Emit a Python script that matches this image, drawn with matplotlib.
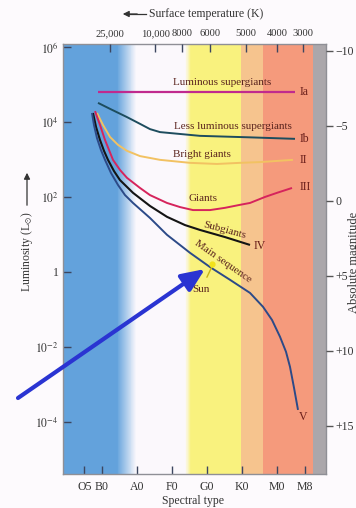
import numpy as np
import matplotlib.pyplot as plt
from matplotlib.colors import to_rgb

plt.rcParams['font.family'] = ['Liberation Serif', 'DejaVu Serif', 'DejaVu Sans']
plt.rcParams['mathtext.fontset'] = 'stix'

# ---------------- data ----------------
spectral_labels = ['O5', 'B0', 'A0', 'F0', 'G0', 'K0', 'M0', 'M8']
spectral_pos = [5, 10, 20, 30, 40, 50, 60, 68]          # subtype index (O0=0, B0=10, ...)
temp_labels = ['25,000', '10,000', '8000', '6000', '5000', '4000', '3000']
temp_pos = [12.3, 25.2, 32.9, 40.9, 51.2, 60.0, 67.4]
lum_ticks = [1e6, 1e4, 1e2, 1, 1e-2, 1e-4]
lum_tick_labels = ['$10^{6}$', '$10^{4}$', '$10^{2}$', '1', '$10^{-2}$', '$10^{-4}$']
mag_ticks = [-10, -5, 0, 5, 10, 15]
mag_tick_labels = ['\u221210', '\u22125', '0', '+5', '+10', '+15']

# luminosity classes: spectral index and log10(L/Lsun)
ia_x = [8.9, 65.1]
ia_logL = [4.8, 4.8]
ib_x = [8.86, 12.29, 17.14, 20.86, 23.71, 26.57, 32.29, 38.0, 52.29, 65.14]
ib_logL = [4.51, 4.35, 4.13, 3.95, 3.81, 3.73, 3.68, 3.63, 3.59, 3.55]
ii_x = [8.57, 10.29, 12.29, 14.57, 17.14, 20.86, 26.57, 35.14, 42.86, 49.43, 55.14, 64.57]
ii_logL = [4.24, 3.92, 3.6, 3.39, 3.23, 3.09, 2.99, 2.91, 2.88, 2.91, 2.93, 2.99]
iii_x = [8.0, 9.43, 10.86, 13.14, 15.14, 17.14, 20.86, 23.71, 28.57, 32.29, 36.0, 40.86,
         45.14, 49.43, 52.29, 56.57, 60.0, 64.29]
iii_logL = [4.29, 3.92, 3.52, 2.99, 2.72, 2.51, 2.24, 2.05, 1.84, 1.73, 1.65, 1.65,
            1.71, 1.79, 1.84, 2.0, 2.11, 2.24]
iv_x = [7.43, 8.29, 9.43, 10.57, 11.71, 13.43, 15.14, 18.86, 23.71, 28.57, 33.71, 38.0, 45.14, 52.29]
iv_logL = [4.24, 3.87, 3.52, 3.23, 2.99, 2.69, 2.45, 2.11, 1.76, 1.47, 1.25, 1.12, 0.93, 0.72]
v_x = [7.14, 7.71, 8.57, 9.71, 10.86, 12.57, 14.57, 16.57, 18.86, 23.71, 28.57, 35.14, 40.86,
       46.57, 52.29, 56.0, 58.57, 60.86, 62.57, 63.71, 64.86, 66.0]
v_logL = [4.24, 3.92, 3.57, 3.25, 2.99, 2.64, 2.32, 2.05, 1.84, 1.44, 0.99, 0.51, 0.13,
          -0.21, -0.56, -0.93, -1.28, -1.73, -2.13, -2.53, -3.09, -3.68]
sun_x = 41.4
sun_logL = 0.2

# ---------------- figure ----------------
W, H = 356, 508
fig = plt.figure(figsize=(W / 100, H / 100), dpi=100)
fig.patch.set_facecolor('#fdfafd')

def fx(px):
    return px / W

def fy(py):
    return 1 - py / H

ax = fig.add_axes([fx(63), fy(474), fx(326) - fx(63), fy(44) - fy(474)])
xmin, xmax = -1.14, 74.0
ax.set_xlim(xmin, xmax)
ax.set_yscale('log')
ax.set_ylim(10 ** -5.39, 10 ** 6.08)

# background bands
blue = to_rgb('#63a2dc')
white = to_rgb('#fbf8fc')
yellow = to_rgb('#f9f27e')
lorange = to_rgb('#f6c48e')
salmon = to_rgb('#f59a7c')
gray = to_rgb('#aba7ab')
ax.axvspan(xmin, 14.3, color=blue, lw=0)
n = 40
edges = np.linspace(14.3, 19.8, n + 1)
for i in range(n):
    t = (i + 0.5) / n
    c = tuple(b * (1 - t) + w * t for b, w in zip(blue, white))
    ax.axvspan(edges[i], edges[i + 1] + 0.01, color=c, lw=0)
ax.axvspan(19.8, 33.8, color=white, lw=0)
edges = np.linspace(33.8, 35.4, 11)
for i in range(10):
    t = (i + 0.5) / 10
    c = tuple(w * (1 - t) + y * t for w, y in zip(white, yellow))
    ax.axvspan(edges[i], edges[i + 1] + 0.01, color=c, lw=0)
ax.axvspan(35.4, 49.7, color=yellow, lw=0)
ax.axvspan(49.7, 56.0, color=lorange, lw=0)
ax.axvspan(56.0, 70.3, color=salmon, lw=0)
ax.axvspan(70.3, xmax, color=gray, lw=0)

def L(a):
    return 10 ** np.asarray(a)

kw = dict(solid_joinstyle='round', solid_capstyle='butt')
ax.plot(ia_x, L(ia_logL), color='#c02a8e', lw=1.6, **kw)
ax.plot(ib_x, L(ib_logL), color='#1d4d5e', lw=1.4, **kw)
ax.plot(ii_x, L(ii_logL), color='#f2c262', lw=1.4, **kw)
ax.plot(iii_x, L(iii_logL), color='#d6245c', lw=1.4, **kw)
ax.plot(iv_x, L(iv_logL), color='#141414', lw=1.5, **kw)
ax.plot(v_x, L(v_logL), color='#2c4a88', lw=1.4, **kw)

# sun
ax.plot([sun_x], [10 ** sun_logL], 'o', color='#f2e21a', ms=3.5, zorder=5)
ax.annotate('Sun', xy=(sun_x - 0.1, 10 ** (sun_logL - 0.08)), xytext=(38.3, 10 ** -0.47),
            ha='center', va='center', fontsize=8, color='#5a241e',
            arrowprops=dict(arrowstyle='-', color='#c9b416', lw=1.0, shrinkA=4, shrinkB=0))

tc = '#5a241e'
fs = 8
ax.text(44.3, 10 ** 5.04, 'Luminous supergiants', ha='center', va='center', fontsize=fs, color=tc)
ax.text(47.4, 10 ** 3.87, 'Less luminous supergiants', ha='center', va='center', fontsize=fs, color=tc)
ax.text(38.6, 10 ** 3.12, 'Bright giants', ha='center', va='center', fontsize=fs, color=tc)
ax.text(38.9, 10 ** 1.95, 'Giants', ha='center', va='center', fontsize=fs, color=tc)
ax.text(45.1, 10 ** 1.12, 'Subgiants', ha='center', va='center', fontsize=fs, color=tc, rotation=-15)
ax.text(44.6, 10 ** 0.27, 'Main sequence', ha='center', va='center', fontsize=fs, color=tc, rotation=-35)
rc = '#6a1e1a'
ax.text(55.1, 10 ** 0.69, 'IV', ha='center', va='center', fontsize=8.5, color=rc)
ax.text(66.6, 10 ** 4.8, 'Ia', ha='left', va='center', fontsize=8.5, color=rc)
ax.text(66.6, 10 ** 3.55, 'Ib', ha='left', va='center', fontsize=8.5, color=rc)
ax.text(66.6, 10 ** 2.99, 'II', ha='left', va='center', fontsize=8.5, color=rc)
ax.text(66.6, 10 ** 2.27, 'III', ha='left', va='center', fontsize=8.5, color=rc)
ax.text(67.5, 10 ** -3.87, 'V', ha='center', va='center', fontsize=8.5, color=rc)

# axes styling
spine_c = '#8f8f96'
tick_c = '#3c4660'
for s in ax.spines.values():
    s.set_color(spine_c)
    s.set_linewidth(1.0)
ax.set_xticks(spectral_pos)
ax.set_xticklabels(spectral_labels)
ax.set_yticks(lum_ticks)
ax.set_yticklabels(lum_tick_labels)
ax.yaxis.set_minor_locator(plt.NullLocator())
ax.tick_params(axis='both', direction='in', length=6, width=1.0, color=tick_c,
               labelsize=8.5, labelcolor='#333333', pad=3)
ax.tick_params(axis='x', pad=5)

ax2 = ax.twinx()
ax2.set_ylim(4.74 - 2.5 * (-5.39), 4.74 - 2.5 * 6.08)
ax2.set_yticks(mag_ticks)
ax2.set_yticklabels(mag_tick_labels)
ax2.tick_params(axis='y', direction='out', length=5, width=1.0, color='#555555',
                labelsize=8.5, labelcolor='#333333', pad=2)
for s in ax2.spines.values():
    s.set_visible(False)

ax3 = ax.twiny()
ax3.set_xlim(xmin, xmax)
ax3.set_xticks(temp_pos)
ax3.set_xticklabels(temp_labels)
ax3.tick_params(axis='x', direction='in', length=6, width=1.0, color=tick_c,
                labelsize=7.6, labelcolor='#333333', pad=4)
for s in ax3.spines.values():
    s.set_visible(False)

# axis titles
fig.text(fx(206), fy(14), 'Surface temperature (K)', ha='center', va='center', fontsize=8.5, color='#333333')
fig.add_artist(plt.Line2D([fx(128), fx(146)], [fy(14), fy(14)], color='#333333', lw=0.9))
ax.annotate('', xy=(120, H - 14), xycoords='figure pixels', xytext=(140, H - 14),
            textcoords='figure pixels', annotation_clip=False,
            arrowprops=dict(arrowstyle='-|>', color='#333333', lw=0.9, mutation_scale=9))
fig.text(fx(193), fy(501), 'Spectral type', ha='center', va='center', fontsize=8.5, color='#333333')
fig.text(fx(27), fy(252), 'Luminosity (L$_{\\odot}$)', ha='center', va='center', rotation=90,
         fontsize=8.5, color='#333333')
ax.annotate('', xy=(27, H - 170), xycoords='figure pixels', xytext=(27, H - 208),
            textcoords='figure pixels', annotation_clip=False,
            arrowprops=dict(arrowstyle='-|>', color='#333333', lw=0.9, mutation_scale=9))
fig.text(fx(354), fy(262), 'Absolute magnitude', ha='center', va='center', rotation=90,
         fontsize=9, color='#333333')

# big blue pointer arrow
ax.annotate('', xy=(205, H - 269), xycoords='figure pixels', xytext=(18, H - 398),
            textcoords='figure pixels', annotation_clip=False,
            arrowprops=dict(arrowstyle='-|>,head_length=1.4,head_width=0.6', color='#2a34d2',
                            lw=3.0, mutation_scale=10, shrinkA=0, shrinkB=0), zorder=10)

fig.savefig('out.png', dpi=100, facecolor=fig.get_facecolor())
